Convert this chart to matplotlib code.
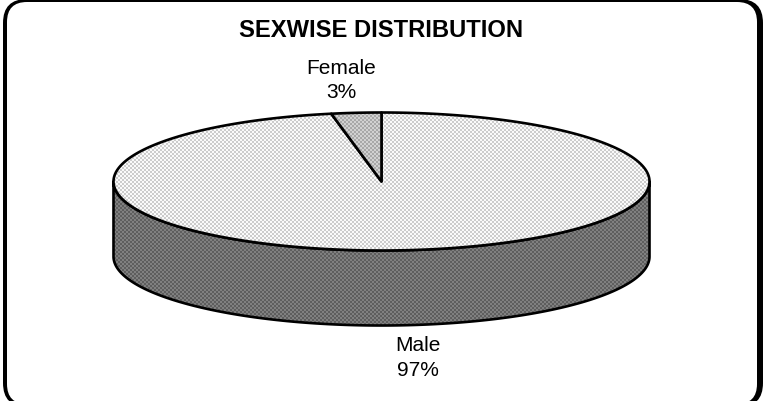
import numpy as np
import matplotlib
matplotlib.use("Agg")
import matplotlib.pyplot as plt
from matplotlib.patches import FancyBboxPatch, Polygon

title = "SEXWISE DISTRIBUTION"
categories = ["Female", "Male"]
shares = [3, 97]

plt.rcParams["font.family"] = ["Liberation Sans", "DejaVu Sans"]

fig = plt.figure(figsize=(7.68, 4.02), dpi=100, facecolor="white")
ax = fig.add_axes([0, 0, 1, 1])
ax.set_xlim(0, 768)
ax.set_ylim(402, 0)
ax.axis("off")

# Rounded outer frame, heavier on the right, running off the lower edge of the figure
ax.add_patch(FancyBboxPatch((3, 0), 760, 408, boxstyle="round,pad=0,rounding_size=24",
                            fc="black", ec="none", zorder=1))
ax.add_patch(FancyBboxPatch((7, 3), 750, 402, boxstyle="round,pad=0,rounding_size=20",
                            fc="white", ec="none", zorder=1))

cx, cy, rx, ry, depth = 381.5, 182.5, 268.0, 69.0, 75.0


def rim(start, stop, n=240, dy=0.0):
    t = np.linspace(start, stop, n)
    return np.column_stack([cx + rx * np.sin(t), cy - ry * np.cos(t) + dy])


def dither(poly_patch, light, dark, zorder, cell=2):
    """Fill a patch with a fine two-tone checker, clipped to its outline."""
    ax.add_patch(poly_patch)
    h, w = 402 // cell + 1, 768 // cell + 1
    yy, xx = np.mgrid[0:h, 0:w]
    img = np.where((xx + yy) % 2 == 0, light, dark)
    im = ax.imshow(img, cmap="gray", vmin=0, vmax=1, extent=(0, w * cell, h * cell, 0),
                   interpolation="nearest", aspect="auto", zorder=zorder)
    im.set_clip_path(poly_patch)
    ax.set_xlim(0, 768)
    ax.set_ylim(402, 0)


# Cumulative slice angles run clockwise from twelve o'clock
total = sum(shares)
female_angle = 2 * np.pi * shares[0] / total

# Side wall of the disc
wall = np.vstack([rim(np.pi / 2, 3 * np.pi / 2), rim(np.pi / 2, 3 * np.pi / 2, dy=depth)[::-1]])
dither(Polygon(wall, closed=True, fc="none", ec="none", zorder=2), 0.37, 0.50, 2)
ax.add_patch(Polygon(wall, closed=True, fill=False, ec="black", lw=1.9, joinstyle="round", zorder=3))

# Male slice on the top face
male = np.vstack([[cx, cy], rim(0, 2 * np.pi - female_angle, 400)])
dither(Polygon(male, closed=True, fc="none", ec="none", zorder=4), 0.98, 0.80, 4)
ax.add_patch(Polygon(male, closed=True, fill=False, ec="black", lw=1.9, joinstyle="round", zorder=5))

# Female slice on the top face
female = np.vstack([[cx, cy], rim(-female_angle, 0, 30)])
dither(Polygon(female, closed=True, fc="none", ec="none", zorder=6), 0.82, 0.66, 6)
ax.add_patch(Polygon(female, closed=True, fill=False, ec="black", lw=1.9, joinstyle="round", zorder=7))

ax.text(381.5, 30.5, title, ha="center", va="center", fontsize=17.1, fontweight="bold", zorder=8)
ax.text(341, 68, categories[0], ha="center", va="center", fontsize=15, zorder=8)
ax.text(341, 93, f"{shares[0]}%", ha="center", va="center", fontsize=15, zorder=8)
ax.text(418, 345.5, categories[1], ha="center", va="center", fontsize=15, zorder=8)
ax.text(418, 371, f"{shares[1]}%", ha="center", va="center", fontsize=15, zorder=8)

fig.savefig("out.png", dpi=100, facecolor="white")
